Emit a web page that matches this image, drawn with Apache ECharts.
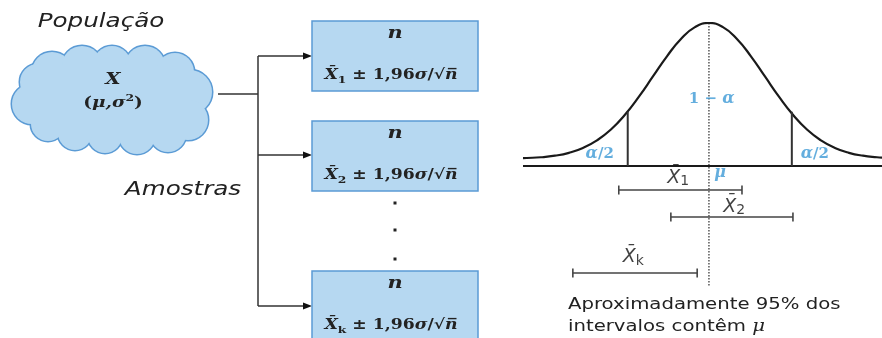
<!DOCTYPE html>
<html>
<head>
<meta charset="utf-8">
<script src="https://cdn.jsdelivr.net/npm/echarts/dist/echarts.min.js"></script>
<style>html,body{margin:0;padding:0;background:#fff}#c{width:882px;height:338px}</style>
</head>
<body>
<div id="c"></div>
<script>
// ---- data (normal curve, x in sigma units, y relative to peak) ----
const curveZ = [-3.32,-3.25,-3.0,-2.75,-2.5,-2.25,-2.0,-1.75,-1.5,-1.25,-1.0,-0.75,-0.5,-0.25,0,0.25,0.5,0.75,1.0,1.25,1.5,1.75,2.0,2.25,2.5,2.75,3.0,3.09];
const curveY = [0.055,0.056,0.061,0.072,0.092,0.126,0.179,0.255,0.358,0.485,0.626,0.767,0.888,0.971,1.0,0.971,0.888,0.767,0.626,0.485,0.358,0.255,0.179,0.126,0.092,0.072,0.061,0.059];
const axisRange = [-3.32, 3.09];
const criticalZ = [-1.45, 1.48];
const criticalY = [0.38, 0.38];
const muLineRange = [1.0, -0.84];
// confidence intervals: [low, high, level]
const intervalNames = ['X1','X2','Xk'];
const intervalLow  = [-1.61, -0.68, -2.43];
const intervalHigh = [ 0.59,  1.50, -0.21];
const intervalLevel = [-0.168, -0.357, -0.748];
// annotation texts on the right panel
const annoText = ['{x|X\u0304}{s|1}', '{m|\u03bc}', '{x|X\u0304}{s|2}', '{x|X\u0304}{s|k}', '{b|1 \u2212 }{bi|\u03b1}', '{bi|\u03b1}{b|/2}', '{bi|\u03b1}{b|/2}'];
const annoZ = [-0.55, 0.2, 0.45, -1.35, 0.05, -1.95, 1.89];
const annoY = [-0.082, -0.05, -0.285, -0.64, 0.469, 0.084, 0.084];

const chart = echarts.init(document.getElementById('c'));

const black = '#222';
const blueTxt = '#3d9ad6';
const boxFill = '#b6d8f1';
const boxStroke = '#5b9bd5';
const mathFont = 'DejaVu Serif';
const stretch = 1.23;

// cloud made of overlapping circles (stroke layer below, fill layer above)
const cloudCircles = [[52,72,20],[82,66,20],[112,65,19],[145,66,20],[175,72,19],[190,92,22],[188,120,20],[168,134,18],[137,136,18],[105,136,17],[75,133,17],[48,124,17],[32,104,20],[38,82,18]];

const boxTops = [21, 121, 271];
const boxSubs = ['1', '2', 'k'];
const arrowY = [56, 155, 306];

const graphics = [];
cloudCircles.forEach(function (c) {
  graphics.push({type:'circle', z: 1, shape:{cx:c[0], cy:c[1], r:c[2]}, style:{fill: boxFill, stroke: boxStroke, lineWidth: 3}});
});
cloudCircles.forEach(function (c) {
  graphics.push({type:'circle', z: 2, shape:{cx:c[0], cy:c[1], r:c[2]}, style:{fill: boxFill}});
});
graphics.push({type:'rect', z: 2, shape:{x:40, y:70, width:150, height:66}, style:{fill: boxFill}});

function stretchedText(x, y, style) {
  style.x = 0; style.y = 0;
  return {type:'text', z: 5, x: x, y: y, scaleX: stretch, style: style};
}
graphics.push(stretchedText(101, 22, {text:'Popula\u00e7\u00e3o', align:'center', verticalAlign:'middle', fontFamily:'DejaVu Sans', fontStyle:'italic', fontSize: 20, fill: black}));
graphics.push(stretchedText(183, 190, {text:'Amostras', align:'center', verticalAlign:'middle', fontFamily:'DejaVu Sans', fontStyle:'italic', fontSize: 20, fill: black}));
graphics.push(stretchedText(113, 80, {text:'X', align:'center', verticalAlign:'middle', fontFamily: mathFont, fontStyle:'italic', fontWeight:'bold', fontSize: 16, fill: black}));
graphics.push(stretchedText(113, 103, {text:'{r|(}{i|\u03bc,\u03c3}{p|2}{r|)}', align:'center', verticalAlign:'middle',
  rich:{
    r:{fontFamily: mathFont, fontWeight:'bold', fontSize: 15, lineHeight: 20, fill: black},
    i:{fontFamily: mathFont, fontStyle:'italic', fontWeight:'bold', fontSize: 15, lineHeight: 20, fill: black},
    p:{fontFamily: mathFont, fontWeight:'bold', fontSize: 10, lineHeight: 12, verticalAlign:'top', fill: black}
  }}));
// connectors
const lineStyle = {stroke:'#333', lineWidth: 1.5, fill: null};
graphics.push({type:'polyline', z: 3, shape:{points:[[218,94],[258,94]]}, style: lineStyle});
graphics.push({type:'polyline', z: 3, shape:{points:[[258,56],[258,306]]}, style: lineStyle});
arrowY.forEach(function (y) {
  graphics.push({type:'polyline', z: 3, shape:{points:[[258,y],[305,y]]}, style: lineStyle});
  graphics.push({type:'polygon', z: 3, shape:{points:[[303,y-3.5],[312,y],[303,y+3.5]]}, style:{fill:'#111'}});
});
// boxes
boxTops.forEach(function (t, i) {
  graphics.push({type:'rect', z: 3, shape:{x:312, y:t, width:166, height: i === 2 ? 80 : 70}, style:{fill: boxFill, stroke: boxStroke, lineWidth: 1.5}});
  graphics.push(stretchedText(395, t + 13, {text:'n', align:'center', verticalAlign:'middle', fontFamily: mathFont, fontStyle:'italic', fontWeight:'bold', fontSize: 17, fill: black}));
  graphics.push(stretchedText(391, t + 54, {text:'{i|X\u0304}{s|' + boxSubs[i] + '}{r| \u00b1 1,96}{i|\u03c3}{r|/\u221a}{i|n\u0305}', align:'center', verticalAlign:'middle',
    rich:{
      r:{fontFamily: mathFont, fontWeight:'bold', fontSize: 14, lineHeight: 20, fill: black},
      i:{fontFamily: mathFont, fontStyle:'italic', fontWeight:'bold', fontSize: 14, lineHeight: 20, fill: black},
      s:{fontFamily: mathFont, fontWeight:'bold', fontSize: 10, lineHeight: 10, verticalAlign:'bottom', fill: black}
    }}));
});
[203, 230, 259].forEach(function (y) {
  graphics.push({type:'rect', z: 3, shape:{x:393.5, y:y-1.5, width:3, height:3}, style:{fill:'#222'}});
});
graphics.push(stretchedText(568, 316, {text:'Aproximadamente 95% dos\nintervalos cont\u00eam {m|\u03bc}', align:'left', verticalAlign:'middle', fontFamily:'DejaVu Sans', fontSize: 16, lineHeight: 22, fill:'#222',
  rich:{m:{fontFamily: mathFont, fontStyle:'italic', fontSize: 16, fill:'#222'}}}));

const series = [];
series.push({type:'line', data: curveZ.map(function (z, i) { return [z, curveY[i]]; }), smooth: true, symbol:'none', lineStyle:{color:'#1a1a1a', width: 2.2}, z: 3});
series.push({type:'line', data: [[axisRange[0], 0], [axisRange[1], 0]], symbol:'none', lineStyle:{color:'#1a1a1a', width: 2}, z: 3});
criticalZ.forEach(function (z, i) {
  series.push({type:'line', data: [[z, 0], [z, criticalY[i]]], symbol:'none', lineStyle:{color:'#333', width: 2}, z: 3});
});
series.push({type:'line', data: [[0, muLineRange[0]], [0, muLineRange[1]]], symbol:'none', lineStyle:{color:'#555', width: 1.5, type:[1.5,1.5]}, z: 2});
intervalNames.forEach(function (n, i) {
  series.push({type:'line', name: n, data: [[intervalLow[i], intervalLevel[i]], [intervalHigh[i], intervalLevel[i]]], symbol:'rect', symbolSize:[1.6, 9], showSymbol: true,
    itemStyle:{color:'#444'}, lineStyle:{color:'#444', width: 1.5}, z: 3});
});
series.push({type:'scatter', data: annoZ.map(function (z, i) { return {value:[z, annoY[i]], label:{formatter: annoText[i]}}; }), symbol:'circle', symbolSize: 1,
  itemStyle:{color:'rgba(0,0,0,0)'},
  label:{show: true, position:'inside', color: '#111', textBorderWidth: 0,
    rich:{
      x:{fontFamily: 'DejaVu Sans', fontStyle:'italic', fontSize: 19, lineHeight: 22, color:'#111', textBorderWidth: 0},
      s:{fontFamily: 'DejaVu Sans', fontSize: 14, lineHeight: 12, verticalAlign:'bottom', color:'#111', textBorderWidth: 0},
      m:{fontFamily: mathFont, fontStyle:'italic', fontWeight:'bold', fontSize: 16, color: blueTxt, textBorderWidth: 0},
      b:{fontFamily: mathFont, fontWeight:'bold', fontSize: 15, color: blueTxt, textBorderWidth: 0},
      bi:{fontFamily: mathFont, fontStyle:'italic', fontWeight:'bold', fontSize: 16, color: blueTxt, textBorderWidth: 0}
    }}, z: 6});

chart.setOption({
  animation: false,
  grid: {left: 523, width: 359, top: 23, height: 268.84, containLabel: false},
  xAxis: {type:'value', min: axisRange[0], max: axisRange[1], show: false},
  yAxis: {type:'value', min: -0.88, max: 1.0, show: false},
  graphic: graphics,
  series: series
});
</script>
</body>
</html>
